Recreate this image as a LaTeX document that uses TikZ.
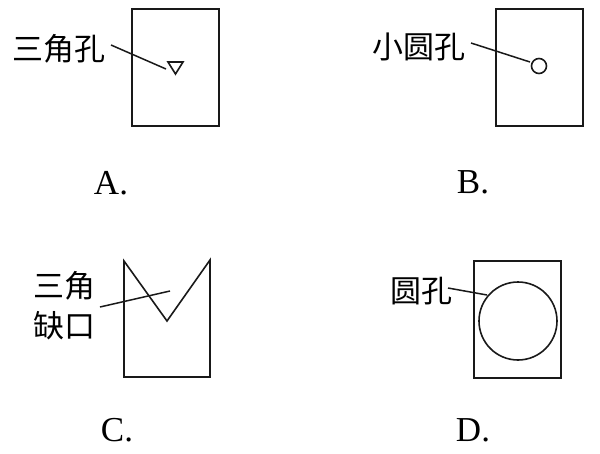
\documentclass[tikz,border=0pt]{standalone}
\usepackage{fontspec}
\newfontfamily\cjk{Noto Sans CJK SC}
\newfontfamily\optfont{Liberation Serif}
\usetikzlibrary{positioning}

\begin{document}
\begin{tikzpicture}[
  x=1pt, y=-1pt,
  line width=1.6pt,
  part/.style={draw=black!90},
  tag/.style={font=\cjk\fontsize{31}{40}\selectfont, inner sep=0pt, align=center},
  choice/.style={font=\optfont\fontsize{35}{38}\selectfont, inner sep=0pt},
  leader/.style={draw=black!90, line width=1.5pt}
]
\useasboundingbox (0,0) rectangle (600,453);

% A: plate with a triangular hole
\draw[part] (132,9) rectangle (219,126);
\draw[part] (168,62) -- (183,62) -- (175.5,74) -- cycle;
\coordinate (holeA) at (166,69);
\node[tag] (tagA) at (59,49) {三角孔};
\draw[leader] (111,45) -- (holeA);
\node[choice] (optA) at (111,183) {A.};

% B: plate with a small round hole
\draw[part] (496,9) rectangle (583,126);
\draw[part] (539,66) circle (7.5);
\coordinate (holeB) at (530,62);
\node[tag] (tagB) at (419,47) {小圆孔};
\draw[leader] (471,43) -- (holeB);
\node[choice] (optB) at (473,182) {B.};

% C: plate with a triangular notch
\draw[part] (124,261) -- (167,321) -- (210,260) -- (210,377) -- (124,377) -- cycle;
\coordinate (notchC) at (170,291);
\node[tag] (tagC) at (64,306) {三角\\缺口};
\draw[leader] (100,307) -- (notchC);
\node[choice] (optC) at (117,430) {C.};

% D: plate with a large round hole
\draw[part] (474,261) rectangle (561,378);
\draw[part] (518,321) circle (39);
\coordinate (holeD) at (487,295);
\node[tag] (tagD) at (421,291) {圆孔};
\draw[leader] (448,288) -- (holeD);
\node[choice] (optD) at (473,430) {D.};
\end{tikzpicture}
\end{document}
